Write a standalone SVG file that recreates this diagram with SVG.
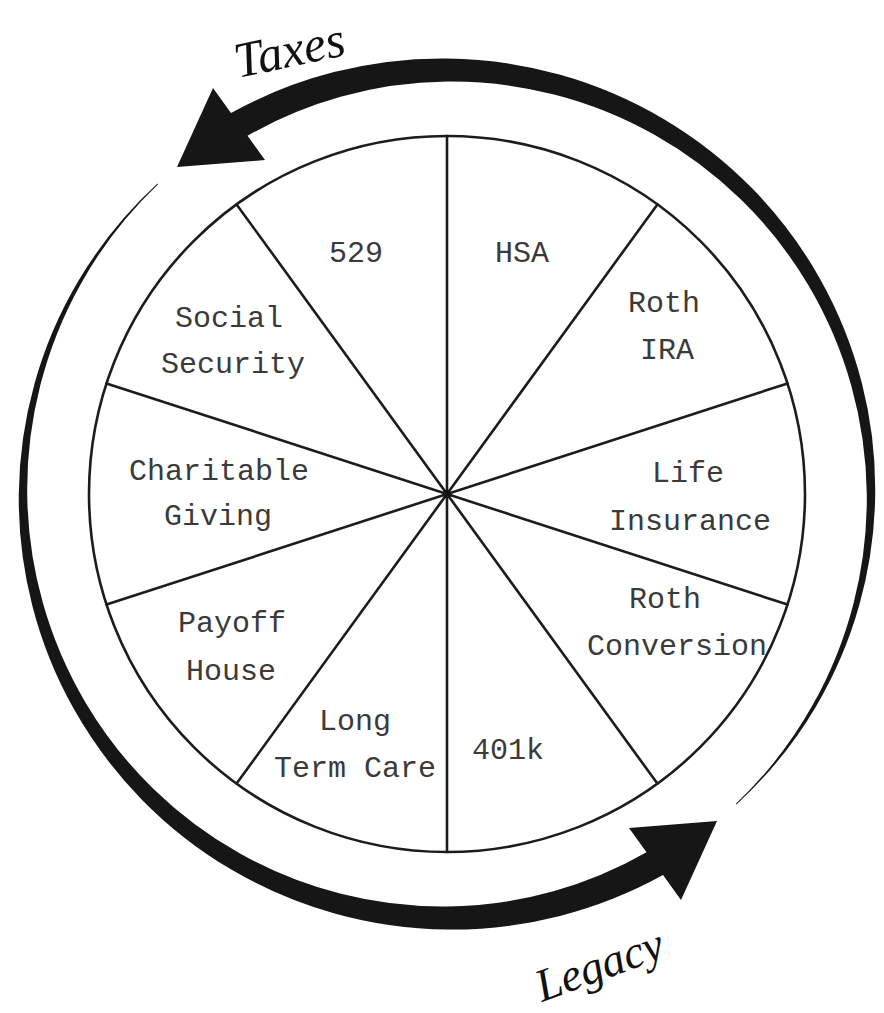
<svg xmlns="http://www.w3.org/2000/svg" width="884" height="1013" viewBox="0 0 884 1013">
<style>
.lbl{font-family:"Liberation Mono","DejaVu Sans Mono",monospace;font-size:30px;fill:#3a3a3a;text-anchor:middle}
.hand{font-family:"Liberation Serif","DejaVu Serif",serif;font-style:italic;fill:#111}
.wheel{fill:none;stroke:#1c1c1c;stroke-width:2.6}
.spoke{stroke:#1c1c1c;stroke-width:2.6;stroke-linecap:round}
.arrow{fill:#161616}
</style>
<defs>
<path id="taper" d="M213,88 L177,167 L265,160 L247.5,135.8 A411 411 0 0 1 340.58,96.80 A412 412 0 0 1 447,81.56 A413 413 0 0 1 554.06,94.44 A414 414 0 0 1 654.45,134.71 A415.5 415.5 0 0 1 741.23,199.77 A416.7 416.7 0 0 1 808.41,285.33 A418 418 0 0 1 851.29,385.68 A419 419 0 0 1 866.78,494 A420.4 420.4 0 0 1 853.64,602.95 A421.6 421.6 0 0 1 812.64,705.11 A423 423 0 0 1 735.90,803.82 L736.44,804.40 A425 425 0 0 0 815.74,706.89 A426.4 426.4 0 0 0 859.44,604.51 A427.6 427.6 0 0 0 875.22,494 A428.8 428.8 0 0 0 861.80,382.86 A430 430 0 0 0 819.96,278.66 A431.3 431.3 0 0 0 752.39,188.61 A432.5 432.5 0 0 0 663.56,118.93 A433.7 433.7 0 0 0 559.41,74.48 A435 435 0 0 0 447,58.44 A436.2 436.2 0 0 0 333.96,72.11 A437.4 437.4 0 0 0 231.0,113.0 Z"/>
</defs>
<rect width="884" height="1013" fill="#ffffff"/>
<g id="connectors">
  <use id="taxes-arrow" href="#taper" class="arrow"/>
  <use id="legacy-arrow" href="#taper" class="arrow" transform="rotate(180 447 494)"/>
</g>
<g id="wheel">
  <circle class="wheel" cx="447" cy="494" r="358"/>
  <line class="spoke" x1="447" y1="136" x2="447" y2="852"/>
  <line class="spoke" x1="657.4" y1="204.4" x2="236.6" y2="783.6"/>
  <line class="spoke" x1="787.5" y1="383.4" x2="106.5" y2="604.6"/>
  <line class="spoke" x1="787.5" y1="604.6" x2="106.5" y2="383.4"/>
  <line class="spoke" x1="657.4" y1="783.6" x2="236.6" y2="204.4"/>
  <circle cx="447" cy="494" r="4" fill="#111"/>
</g>
<g id="n-529"><text class="lbl" x="356" y="262">529</text></g>
<g id="n-hsa"><text class="lbl" x="522" y="262">HSA</text></g>
<g id="n-roth-ira"><text class="lbl" x="664" y="312">Roth</text><text class="lbl" x="667" y="359">IRA</text></g>
<g id="n-life"><text class="lbl" x="688" y="482">Life</text><text class="lbl" x="690" y="530">Insurance</text></g>
<g id="n-roth-conv"><text class="lbl" x="665" y="608">Roth</text><text class="lbl" x="677" y="655">Conversion</text></g>
<g id="n-401k"><text class="lbl" x="508" y="759">401k</text></g>
<g id="n-ltc"><text class="lbl" x="355" y="730">Long</text><text class="lbl" x="355" y="777">Term Care</text></g>
<g id="n-payoff"><text class="lbl" x="232" y="632">Payoff</text><text class="lbl" x="231" y="680">House</text></g>
<g id="n-charity"><text class="lbl" x="219" y="480">Charitable</text><text class="lbl" x="218" y="525">Giving</text></g>
<g id="n-social"><text class="lbl" x="229" y="327">Social</text><text class="lbl" x="233" y="373">Security</text></g>
<g id="t-taxes"><text class="hand" font-size="50" transform="translate(238 78) rotate(-12)">Taxes</text></g>
<g id="t-legacy"><text class="hand" font-size="46" transform="translate(542 1002) rotate(-20)">Legacy</text></g>
</svg>
